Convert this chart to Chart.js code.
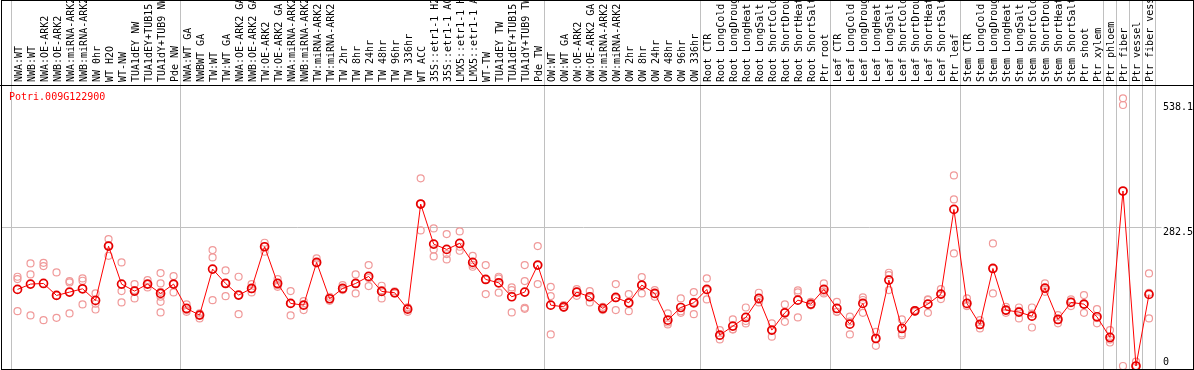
<!DOCTYPE html>
<html>
<head>
<meta charset="utf-8">
<script src="https://cdn.jsdelivr.net/npm/chart.js@4.4.1/dist/chart.umd.min.js"></script>
<style>
    body { margin: 0; background: #fff; }
    #wrap { position: relative; width: 1194px; height: 370px; }
    #frame { position: absolute; left: 1px; top: 0; width: 1193px; height: 370px; border: 1px solid #000; box-sizing: border-box; pointer-events: none; }
    #rule { position: absolute; left: 0; top: 85px; width: 1194px; height: 1px; background: #000; }
    #gene { position: absolute; left: 9px; top: 91px; font: 10px "DejaVu Sans Mono", monospace; color: #f00; }
</style>
</head>
<body>
<div id="wrap">
    <canvas id="dataChart" width="1194" height="370"></canvas>
    <div id="frame"></div>
    <div id="rule"></div>
    <div id="gene">Potri.009G122900</div>
</div>
<script>
const samples = [
    'NWA:WT', 'NWB:WT', 'NWA:OE-ARK2', 'NWB:OE-ARK2', 'NWA:miRNA-ARK2', 'NWB:miRNA-ARK2', 'NW 0hr', 'WT H2O',
    'WT-NW', 'TUA1dEY NW', 'TUA1dEY+TUB15 NW', 'TUA1dY+TUB9 NW', 'Pde NW',
    'NWA:WT GA', 'NWBWT GA', 'TW:WT', 'TW:WT GA', 'NWA:OE-ARK2 GA', 'NWB:OE-ARK2 GA', 'TW:OE-ARK2', 'TW:OE-ARK2 GA',
    'NWA:miRNA-ARK2 GA', 'NWB:miRNA-ARK2 GA', 'TW:miRNA-ARK2', 'TW:miRNA-ARK2 GA', 'TW 2hr', 'TW 8hr', 'TW 24hr',
    'TW 48hr', 'TW 96hr', 'TW 336hr', 'WT ACC', '35S::etr1-1 H2O', '35S::etr1-1 ACC', 'LMX5::etr1-1 H2O',
    'LMX5::etr1-1 ACC', 'WT-TW', 'TUA1dEY TW', 'TUA1dEY+TUB15 TW', 'TUA1dY+TUB9 TW', 'Pde TW',
    'OW:WT', 'OW:WT GA', 'OW:OE-ARK2', 'OW:OE-ARK2 GA', 'OW:miRNA-ARK2', 'OW:miRNA-ARK2 GA', 'OW 2hr', 'OW 8hr',
    'OW 24hr', 'OW 48hr', 'OW 96hr', 'OW 336hr',
    'Root CTR', 'Root LongCold', 'Root LongDrought', 'Root LongHeat', 'Root LongSalt', 'Root ShortCold',
    'Root ShortDrought', 'Root ShortHeat', 'Root ShortSalt', 'Ptr root',
    'Leaf CTR', 'Leaf LongCold', 'Leaf LongDrought', 'Leaf LongHeat', 'Leaf LongSalt', 'Leaf ShortCold',
    'Leaf ShortDrought', 'Leaf ShortHeat', 'Leaf ShortSalt', 'Ptr leaf',
    'Stem CTR', 'Stem LongCold', 'Stem LongDrought', 'Stem LongHeat', 'Stem LongSalt', 'Stem ShortCold',
    'Stem ShortDrought', 'Stem ShortHeat', 'Stem ShortSalt', 'Ptr shoot', 'Ptr xylem',
    'Ptr phloem', 'Ptr fiber', 'Ptr vessel', 'Ptr fiber vessel'
];

// mean expression per sample
const means = [
    156.6, 167.5, 168.8, 144.3, 151.1, 157.9, 134.1, 245.2, 167.5, 153.2, 167.5, 148.4, 167.5,
    117.7, 104.1, 198.2, 168.8, 145.0, 158.6, 243.9, 168.8, 128.0, 124.5, 211.8, 137.5, 158.6, 168.8, 183.2,
    152.5, 149.8, 116.3, 331.2, 249.3, 238.4, 250.7, 211.8, 177.0, 170.2, 141.6, 151.1, 206.4,
    124.5, 121.1, 151.1, 141.6, 117.7, 140.2, 129.3, 165.4, 148.4, 93.8, 119.7, 129.3,
    156.6, 63.1, 81.6, 99.3, 138.2, 73.4, 108.8, 134.7, 126.6, 156.6,
    117.7, 85.6, 128.0, 56.3, 175.7, 76.8, 112.9, 126.6, 147.0, 320.2,
    128.0, 85.0, 199.5, 114.3, 110.2, 102.0, 159.3, 95.2, 130.0, 126.6, 100.7,
    58.4, 357.8, 0, 146.4
];

// individual replicates per sample
const replicates = [
    [182.5, 177.7, 112.2], [209.8, 187.3, 103.4], [211.1, 204.3, 93.8], [191.4, 144.3, 98.6],
    [173.6, 170.9, 107.5], [179.1, 174.3, 125.9], [148.4, 127.3, 115.6], [259.5, 246.6, 225.4],
    [211.8, 153.2, 130.0], [167.5, 155.2, 138.2], [175.7, 167.5, 160.7],
    [190.0, 168.8, 151.8, 141.6, 131.3, 109.5], [183.9, 167.5, 150.4],
    [125.9, 114.3, 110.9], [107.5, 104.1, 97.3], [237.0, 222.0, 134.7], [195.4, 168.8, 142.9],
    [182.5, 145.0, 106.1], [167.5, 157.3, 150.4], [252.0, 243.9, 233.6], [177.7, 165.4, 162.0],
    [153.2, 128.0, 103.4], [132.7, 124.5, 114.3], [220.0, 211.0, 209.8], [141.6, 137.5, 133.4],
    [165.4, 158.0, 155.2], [187.3, 168.8, 148.4], [206.4, 180.0, 163.4], [164.1, 155.0, 138.2],
    [152.5, 149.0, 148.4], [120.0, 117.7, 110.9], [383.7, 332.0, 277.3], [281.4, 238.4, 224.0],
    [269.8, 228.9, 218.0], [275.2, 243.9, 235.7], [225.4, 207.0, 203.0], [206.4, 177.0, 147.0],
    [182.5, 179.1, 150.0], [160.7, 155.2, 109.5], [206.4, 173.6, 119.1, 117.0], [245.2, 206.0, 167.5],
    [162.0, 143.0, 64.5], [124.5, 119.7, 119.0], [157.3, 152.0, 143.6], [153.2, 141.0, 130.0],
    [121.0, 118.0, 114.3], [167.5, 139.0, 114.3], [147.0, 129.0, 112.2], [181.8, 166.0, 148.4],
    [155.2, 148.0, 141.6], [107.5, 89.0, 85.0], [138.2, 112.0, 108.8], [151.1, 131.0, 106.1],
    [179.1, 155.0, 136.1], [73.4, 62.0, 54.3], [95.2, 75.0, 74.7], [119.7, 92.0, 87.0],
    [149.8, 135.0, 130.0], [87.2, 73.0, 59.9], [125.9, 110.0, 90.4], [154.5, 150.4, 99.3],
    [131.3, 124.5, 124.0], [168.8, 152.0, 148.4],
    [131.3, 111.0, 110.9], [100.8, 91.0, 64.5], [140.2, 135.0, 108.8], [70.0, 57.0, 41.3],
    [190.7, 186.0, 155.2], [95.2, 66.5, 63.1], [114.3, 113.0, 110.9], [136.1, 135.0, 108.8],
    [157.3, 147.0, 136.8], [389.8, 340.7, 230.2],
    [138.2, 123.0, 122.5], [93.8, 84.0, 76.8], [250.7, 199.0, 148.4], [121.1, 113.0, 108.8],
    [119.7, 113.0, 97.3], [119.7, 107.0, 78.8], [168.8, 157.0, 151.8], [104.1, 94.0, 87.2],
    [136.1, 131.0, 122.5], [145.0, 126.0, 108.8], [116.3, 98.0, 87.2],
    [73.4, 54.0, 48.1], [547.4, 533.7, 0], [9.0, 0, 0], [189.3, 149.8, 97.3]
];

// index of first sample of each group (+ end)
const groupStarts = [0, 13, 41, 53, 63, 73, 84, 85, 86, 87, 88];
const yTickValues = [0, 282.5, 538.1];

const yMin = -6.1;
const yMax = 574.6;
const monoFont = 'DejaVu Sans Mono';
const gridGray = '#c0c0c0';

const repCount = Math.max(...replicates.map(r => r.length));
const repDatasets = [];
for (let k = 0; k < repCount; k++) {
    repDatasets.push({
        data: replicates.map(r => (k < r.length ? r[k] : null)),
        showLine: false,
        pointRadius: 3.5,
        pointBorderWidth: 1.2,
        pointBorderColor: '#f09a9a',
        pointBackgroundColor: 'rgba(0,0,0,0)',
        order: 1
    });
}

// keep the axes from reserving extra room for overhanging labels
function noPadding(scale) {
    scale.paddingTop = 0;
    scale.paddingBottom = 0;
    scale.paddingLeft = 0;
    scale.paddingRight = 0;
}

let chart = new Chart(document.getElementById('dataChart'), {
    type: 'line',
    data: {
        labels: samples,
        datasets: [{
            data: means,
            borderColor: '#ff0000',
            borderWidth: 1,
            pointRadius: 4,
            pointBorderWidth: 1.7,
            pointBorderColor: '#e60000',
            pointBackgroundColor: 'rgba(0,0,0,0)',
            tension: 0,
            order: 0
        }, ...repDatasets]
    },
    options: {
        responsive: false,
        animation: false,
        layout: { autoPadding: false, padding: { bottom: 1 } },
        plugins: {
            legend: { display: false },
            tooltip: { enabled: false }
        },
        scales: {
            x: {
                type: 'category',
                position: 'top',
                offset: true,
                afterFit: function (scale) {
                    scale.height = 85;
                    noPadding(scale);
                },
                border: { display: false },
                grid: {
                    offset: true,
                    lineWidth: 1,
                    tickLength: 85,
                    color: function (ctx) {
                        return (ctx.index === undefined || groupStarts.includes(ctx.index)) ? gridGray : 'rgba(0,0,0,0)';
                    }
                },
                ticks: {
                    autoSkip: false,
                    minRotation: 90,
                    maxRotation: 90,
                    padding: -82,
                    labelOffset: 13.5,
                    color: '#000',
                    font: { family: monoFont, size: 10 }
                }
            },
            yL: {
                position: 'left',
                min: yMin,
                max: yMax,
                afterBuildTicks: function (scale) {
                    scale.ticks = [{ value: 282.5 }];
                },
                afterFit: function (scale) {
                    scale.width = 11;
                    noPadding(scale);
                },
                border: { display: false },
                grid: {
                    drawOnChartArea: false,
                    tickLength: 10,
                    color: gridGray
                },
                ticks: { display: false }
            },
            y: {
                position: 'right',
                min: yMin,
                max: yMax,
                afterBuildTicks: function (scale) {
                    scale.ticks = yTickValues.map(v => ({ value: v }));
                },
                afterFit: function (scale) {
                    scale.width = 38.5;
                    noPadding(scale);
                },
                border: { display: false },
                grid: {
                    tickLength: 6,
                    color: function (ctx) {
                        return ctx.tick && ctx.tick.value === 282.5 ? gridGray : 'rgba(0,0,0,0)';
                    }
                },
                ticks: {
                    padding: 1.5,
                    labelOffset: 5,
                    color: '#000',
                    font: { family: monoFont, size: 10, lineHeight: 1.8 },
                    callback: function (value) {
                        return value === 0 ? ['0', ''] : String(value);
                    }
                }
            }
        }
    }
});
</script>
</body>
</html>
